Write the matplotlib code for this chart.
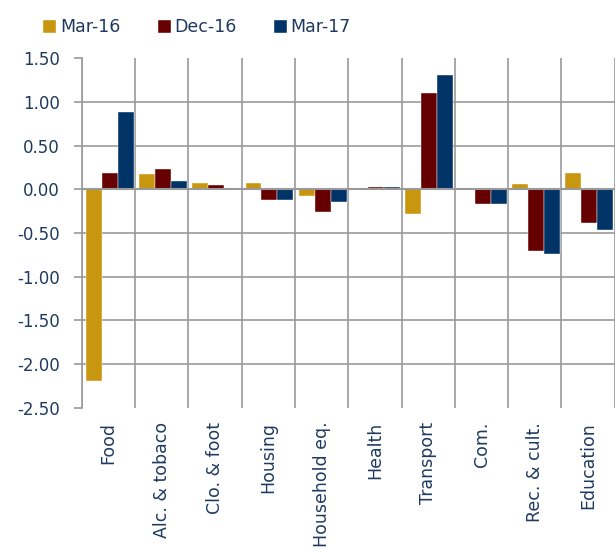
import numpy as np
import matplotlib
matplotlib.use('Agg')
import matplotlib.pyplot as plt

plt.rcParams['font.family'] = ['DejaVu Sans']

categories = ['Food', 'Alc. & tobaco', 'Clo. & foot', 'Housing', 'Household eq.',
              'Health', 'Transport', 'Com.', 'Rec. & cult.', 'Education']
series_names = ['Mar-16', 'Dec-16', 'Mar-17']
mar16 = [-2.19, 0.17, 0.07, 0.07, -0.08, 0.0, -0.28, 0.0, 0.06, 0.19]
dec16 = [0.19, 0.23, 0.05, -0.12, -0.26, 0.025, 1.10, -0.17, -0.71, -0.38]
mar17 = [0.89, 0.09, 0.0, -0.12, -0.15, 0.025, 1.31, -0.17, -0.74, -0.47]
colors = ['#C8960F', '#660000', '#003366']
text_col = '#1F3A60'
grid_col = '#999999'

fig = plt.figure(figsize=(6.16, 5.49), dpi=100)
ax = fig.add_axes([0.133, 0.257, 0.865, 0.637])

x = np.arange(len(categories))
w = 0.3
for i, (vals, name) in enumerate(zip([mar16, dec16, mar17], series_names)):
    ax.bar(x + (i - 1) * w + 0.02, vals, w, color=colors[i], label=name,
           edgecolor='white', linewidth=0.3, zorder=3)

ax.set_xlim(-0.5, len(categories) - 0.5)
ax.set_ylim(-2.5, 1.5)
yt = np.arange(-2.5, 1.51, 0.5)
ax.set_yticks(yt)
ax.set_yticklabels(['{:.2f}'.format(v) for v in yt])
ax.set_xticks(x)
ax.set_xticklabels(categories, rotation=90)
ax.set_xticks(np.arange(-0.5, len(categories), 1.0), minor=True)

ax.tick_params(axis='x', which='major', length=0, pad=10, labelsize=12.5, colors=text_col)
ax.tick_params(axis='x', which='minor', length=0)
ax.tick_params(axis='y', length=6, width=1.2, labelsize=12,
               colors=text_col, pad=10)
ax.tick_params(axis='y', color=grid_col)

ax.grid(axis='y', which='major', color=grid_col, linewidth=1.2, zorder=0)
ax.grid(axis='x', which='minor', color=grid_col, linewidth=1.2, zorder=0)
ax.set_axisbelow(True)
ylines = ax.get_ygridlines()
ylines[0].set_visible(False)
ylines[-1].set_visible(False)
ax.axhline(0, color=grid_col, linewidth=1.5, zorder=4)

for s in ['top', 'right', 'bottom']:
    ax.spines[s].set_visible(False)
ax.spines['left'].set_color(grid_col)
ax.spines['left'].set_linewidth(1.2)

leg = fig.legend(loc='upper left', bbox_to_anchor=(0.045, 0.995), ncol=3,
                 frameon=False, handlelength=0.75, handleheight=0.75,
                 handletextpad=0.2, columnspacing=2.15, fontsize=12.5)
for t in leg.get_texts():
    t.set_color(text_col)

fig.savefig('out.png', dpi=100)
